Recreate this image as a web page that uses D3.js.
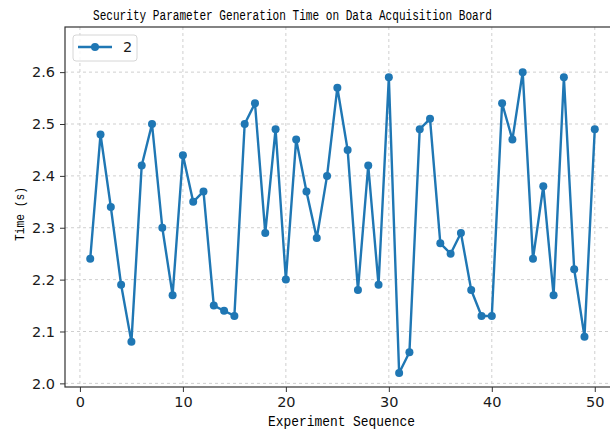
<!DOCTYPE html>
<html>
<head>
<meta charset="utf-8">
<script src="https://cdn.jsdelivr.net/npm/d3@7"></script>
<style>
  body { margin: 0; background: #fff; }
  svg { display: block; }
</style>
</head>
<body>
<div id="chart"></div>
<script>
// experiment index and measured time (s)
const runs = d3.range(1, 51);
const times = [
    2.24, 2.48, 2.34, 2.19, 2.08, 2.42, 2.50, 2.30, 2.17, 2.44,
    2.35, 2.37, 2.15, 2.14, 2.13, 2.50, 2.54, 2.29, 2.49, 2.20,
    2.47, 2.37, 2.28, 2.40, 2.57, 2.45, 2.18, 2.42, 2.19, 2.59,
    2.02, 2.06, 2.49, 2.51, 2.27, 2.25, 2.29, 2.18, 2.13, 2.13,
    2.54, 2.47, 2.60, 2.24, 2.38, 2.17, 2.59, 2.22, 2.09, 2.49
];
const xTicks = [0, 10, 20, 30, 40, 50];
const yTicks = [2.0, 2.1, 2.2, 2.3, 2.4, 2.5, 2.6];
const seriesName = "2";

const width = 610, height = 431;
const plotL = 65, plotR = 620, plotT = 27, plotB = 387;
const lineColor = "#1f77b4";
const monoFont = "'Liberation Mono', 'DejaVu Sans Mono', monospace";
const tickFont = "'DejaVu Sans', sans-serif";

const svg = d3.select("#chart").append("svg")
    .attr("width", width)
    .attr("height", height);

const x = d3.scaleLinear().domain([-1.45, 52.45]).range([plotL, plotR]);
const y = d3.scaleLinear().domain([1.993, 2.687]).range([plotB, plotT]);

// grid
const grid = svg.append("g");
grid.selectAll(".gx").data(xTicks).enter().append("line")
    .attr("x1", d => x(d)).attr("x2", d => x(d))
    .attr("y1", plotT).attr("y2", plotB)
    .attr("stroke", "#cfcfcf").attr("stroke-width", 1)
    .attr("stroke-dasharray", "3,3");
grid.selectAll(".gy").data(yTicks).enter().append("line")
    .attr("x1", plotL).attr("x2", plotR)
    .attr("y1", d => y(d)).attr("y2", d => y(d))
    .attr("stroke", "#cfcfcf").attr("stroke-width", 1)
    .attr("stroke-dasharray", "3,3");

// axes
const xAxis = svg.append("g")
    .attr("transform", `translate(0,${plotB})`)
    .call(d3.axisBottom(x).tickValues(xTicks).tickFormat(d3.format("d")).tickSize(5).tickPadding(5));
const yAxis = svg.append("g")
    .attr("transform", `translate(${plotL},0)`)
    .call(d3.axisLeft(y).tickValues(yTicks).tickFormat(d3.format(".1f")).tickSize(5).tickPadding(5));

[xAxis, yAxis].forEach(a => {
    a.select(".domain").remove();
    a.selectAll(".tick line").attr("stroke", "#333");
    a.selectAll(".tick text")
        .attr("fill", "#1a1a1a")
        .style("font-family", tickFont)
        .style("font-size", "14.5px");
});

// frame
svg.append("rect")
    .attr("x", plotL).attr("y", plotT)
    .attr("width", plotR - plotL).attr("height", plotB - plotT)
    .attr("fill", "none").attr("stroke", "#333").attr("stroke-width", 1.2);

// series
const line = d3.line()
    .x((d, i) => x(runs[i]))
    .y(d => y(d));

svg.append("path")
    .datum(times)
    .attr("d", line)
    .attr("fill", "none")
    .attr("stroke", lineColor)
    .attr("stroke-width", 2.4)
    .attr("stroke-linejoin", "round");

svg.selectAll(".pt").data(times).enter().append("circle")
    .attr("cx", (d, i) => x(runs[i]))
    .attr("cy", d => y(d))
    .attr("r", 4)
    .attr("fill", lineColor);

// legend
const legend = svg.append("g").attr("transform", "translate(73,35)");
legend.append("rect")
    .attr("width", 64).attr("height", 26).attr("rx", 3)
    .attr("fill", "#fff").attr("fill-opacity", 0.8)
    .attr("stroke", "#d6d6d6");
legend.append("line")
    .attr("x1", 5).attr("x2", 39).attr("y1", 12).attr("y2", 12)
    .attr("stroke", lineColor).attr("stroke-width", 2.4);
legend.append("circle")
    .attr("cx", 22).attr("cy", 12).attr("r", 4).attr("fill", lineColor);
legend.append("text")
    .attr("x", 50).attr("y", 17)
    .style("font-family", tickFont).style("font-size", "14.5px")
    .attr("fill", "#1a1a1a")
    .text(seriesName);

// titles
svg.append("text")
    .attr("x", 292.5).attr("y", 20)
    .attr("text-anchor", "middle")
    .style("font-family", monoFont).style("font-size", "14px")
    .attr("textLength", 399).attr("lengthAdjust", "spacingAndGlyphs")
    .attr("fill", "#000")
    .text("Security Parameter Generation Time on Data Acquisition Board");

svg.append("text")
    .attr("x", 341.5).attr("y", 426)
    .attr("text-anchor", "middle")
    .style("font-family", monoFont).style("font-size", "14px")
    .attr("textLength", 147).attr("lengthAdjust", "spacingAndGlyphs")
    .attr("fill", "#000")
    .text("Experiment Sequence");

svg.append("text")
    .attr("transform", "translate(24,214) rotate(-90)")
    .attr("text-anchor", "middle")
    .style("font-family", monoFont).style("font-size", "13px")
    .attr("textLength", 54).attr("lengthAdjust", "spacingAndGlyphs")
    .attr("fill", "#000")
    .text("Time (s)");
</script>
</body>
</html>
